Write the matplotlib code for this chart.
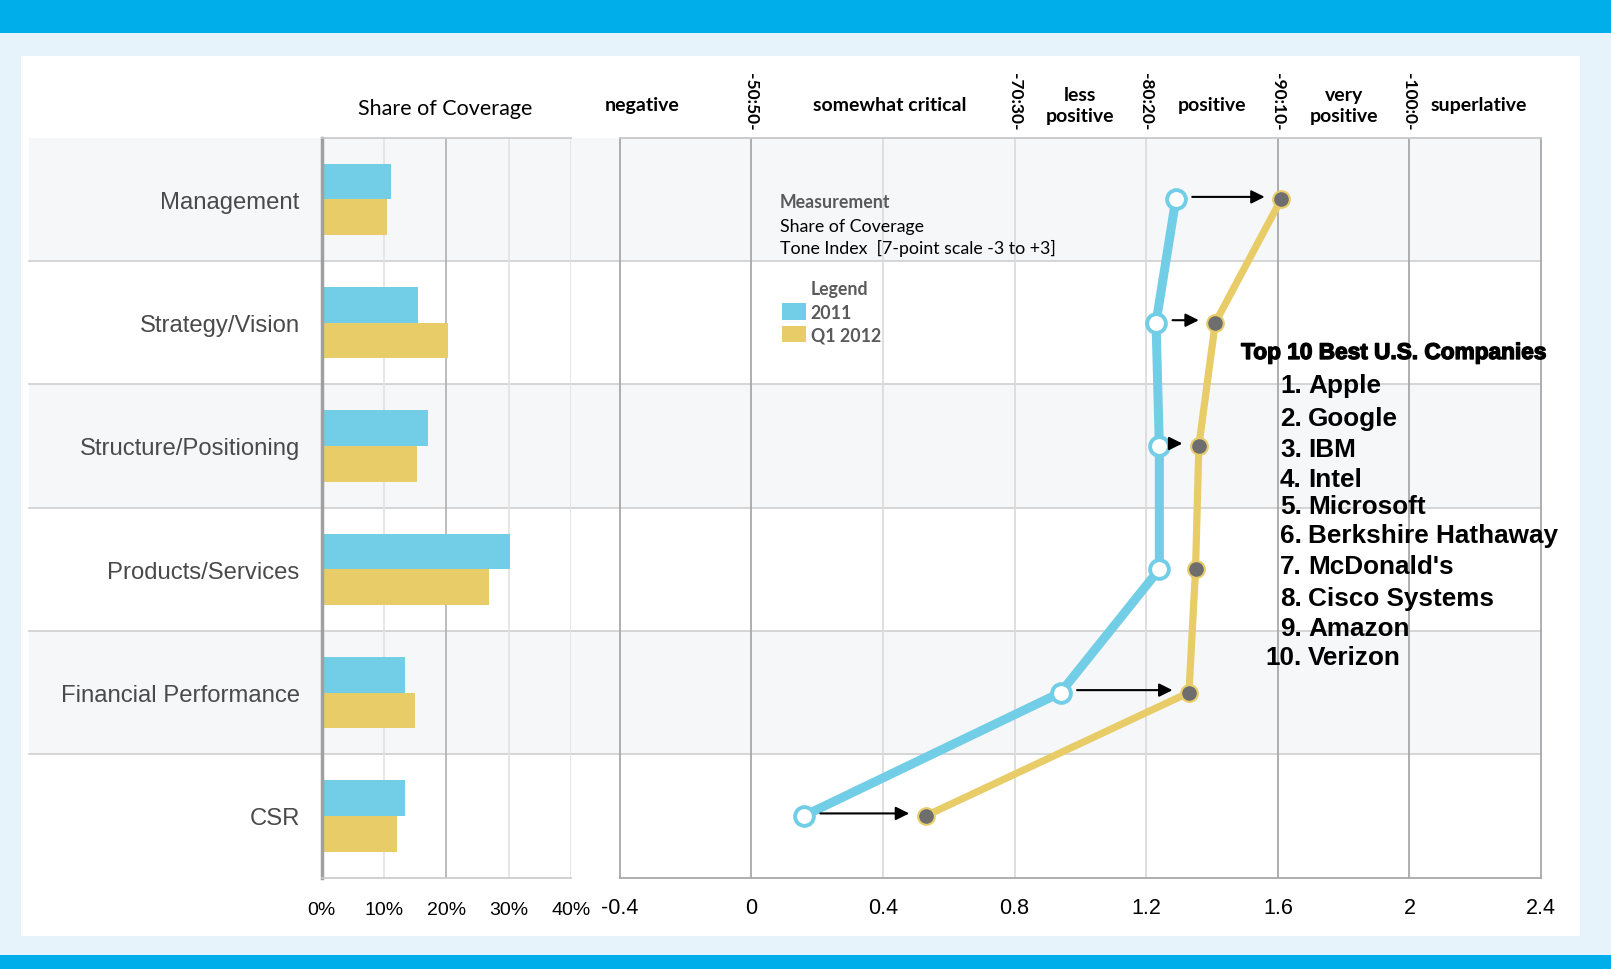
import matplotlib
matplotlib.use('Agg')
import matplotlib.pyplot as plt
from matplotlib.patches import Rectangle
from matplotlib.lines import Line2D
import matplotlib.transforms as mtransforms
import matplotlib.patheffects as pe

# ---------------- data ----------------
categories = ['Management', 'Strategy/Vision', 'Structure/Positioning',
              'Products/Services', 'Financial Performance', 'CSR']
share_2011 = [11.2, 15.5, 17.0, 30.2, 13.4, 13.3]
share_q1_2012 = [10.5, 20.2, 15.3, 26.9, 15.0, 12.1]
tone_2011 = [1.29, 1.23, 1.24, 1.24, 0.94, 0.16]
tone_q1_2012 = [1.61, 1.41, 1.36, 1.35, 1.33, 0.53]

share_ticks = [0, 10, 20, 30, 40]
share_tick_labels = ['0%', '10%', '20%', '30%', '40%']
tone_ticks = [-0.4, 0, 0.4, 0.8, 1.2, 1.6, 2.0, 2.4]
tone_tick_labels = ['-0.4', '0', '0.4', '0.8', '1.2', '1.6', '2', '2.4']

tone_bands = ['negative', 'somewhat critical', 'less\npositive', 'positive',
              'very\npositive', 'superlative']
tone_band_centers = [-0.33, 0.42, 1.0, 1.4, 1.8, 2.21]
band_bounds = [0, 0.8, 1.2, 1.6, 2.0]
band_bound_labels = ['-50:50-', '-70:30-', '-80:20-', '-90:10-', '-100:0-']

companies = ['Apple', 'Google', 'IBM', 'Intel', 'Microsoft', 'Berkshire Hathaway',
             "McDonald's", 'Cisco Systems', 'Amazon', 'Verizon']
series_names = ['2011', 'Q1 2012']

# ---------------- style ----------------
BLUE = '#72CDE6'
YELLOW = '#E8CC68'
TOPBLUE = '#00AEEA'
LIGHTBG = '#E6F3FB'
ROWGRAY = '#F6F7F9'
SEP = '#CFCFCF'

W, H = 1568.0, 944.0   # reference layout units


def fx(x):
    return x / W


def fy(y):
    return 1 - y / H


fig = plt.figure(figsize=(16.11, 9.70), dpi=100)
fig.patch.set_facecolor('white')


def frect(x0, y0, x1, y1, color, z=-10):
    r = Rectangle((fx(x0), fy(y1)), fx(x1) - fx(x0), fy(y0) - fy(y1),
                  transform=fig.transFigure, facecolor=color, edgecolor='none', zorder=z)
    fig.add_artist(r)


# background frame
frect(0, 0, W, H, LIGHTBG, -20)
frect(0, 0, W, 33, TOPBLUE, -19)
frect(0, 930, W, H, TOPBLUE, -19)
frect(20, 55, 1538, 912, 'white', -18)

# axes geometry
top_y, bot_y = 135, 855
n = len(categories)
row_h = (bot_y - top_y) / n
for i in range(n):
    if i % 2 == 0:
        frect(28, top_y + i * row_h, 1500, top_y + (i + 1) * row_h, ROWGRAY, -15)
for i in range(1, n):
    yy = fy(top_y + i * row_h)
    fig.add_artist(Line2D([fx(28), fx(1500)], [yy, yy], transform=fig.transFigure,
                          color=SEP, lw=1.2, zorder=-14))

ax1 = fig.add_axes([fx(313), fy(bot_y), fx(556) - fx(313), fy(top_y) - fy(bot_y)])
ax2 = fig.add_axes([fx(603), fy(bot_y), fx(1500) - fx(603), fy(top_y) - fy(bot_y)])
for ax in (ax1, ax2):
    ax.set_facecolor('none')
    ax.set_ylim(n - 0.5, -0.5)
    ax.set_yticks([])

ys = list(range(n))

# ---- bar panel ----
ax1.set_xlim(0, 40)
for t in share_ticks[1:]:
    ax1.axvline(t, color='#B0B0B0' if t == 20 else '#E2E2E2', lw=1.2, zorder=0)
bh = 0.29
ax1.barh([y - bh / 2 for y in ys], share_2011, height=bh, color=BLUE, zorder=2)
ax1.barh([y + bh / 2 for y in ys], share_q1_2012, height=bh, color=YELLOW, zorder=2)
ax1.set_xticks(share_ticks)
ax1.set_xticklabels(share_tick_labels, family=['Liberation Sans Narrow', 'Liberation Sans'],
                    fontsize=14)
ax1.tick_params(axis='x', length=0, pad=17)
ax1.spines['left'].set_color('#A0A0A0')
ax1.spines['left'].set_linewidth(2.5)
ax1.spines['right'].set_visible(False)
for s in ['top', 'bottom']:
    ax1.spines[s].set_color('#C8C8C8')
    ax1.spines[s].set_linewidth(1.2)

for y, c in zip(ys, categories):
    ax1.text(-3.5, y + 0.02, c, ha='right', va='center', fontsize=17.2,
             family='Liberation Sans', color='#4A4A4A')

# ---- tone panel ----
ax2.set_xlim(-0.4, 2.4)
dark_lines = [0, 1.6, 2.0]
for t in tone_ticks[1:-1]:
    ax2.axvline(t, color='#A8A8A8' if t in dark_lines else '#DCDCDC', lw=1.3, zorder=0)
ax2.set_xticks(tone_ticks)
ax2.set_xticklabels(tone_tick_labels, family='Liberation Sans', fontsize=15.5)
ax2.tick_params(axis='x', length=0, pad=14)
for s in ax2.spines.values():
    s.set_color('#A8A8A8')
    s.set_linewidth(1.3)
ax2.spines['top'].set_color('#C8C8C8')

ax2.plot(tone_2011, ys, color=BLUE, lw=6.5, marker='o', ms=13.5, mfc='white',
         mec=BLUE, mew=2.8, zorder=4, solid_capstyle='round')
ax2.plot(tone_q1_2012, ys, color=YELLOW, lw=5.2, marker='o', ms=12, mfc='#6E6E6E',
         mec=YELLOW, mew=1.5, zorder=3, solid_capstyle='round')
for y, a, b in zip(ys, tone_2011, tone_q1_2012):
    if b - a > 0.115:
        ax2.annotate('', xy=(b - 0.05, y - 0.02), xytext=(a + 0.05, y - 0.02),
                     arrowprops=dict(arrowstyle='-|>', color='black', lw=1.5,
                                     mutation_scale=20, shrinkA=0, shrinkB=0),
                     zorder=5)

# header labels
HF = 'Lato'
trans2 = mtransforms.blended_transform_factory(ax2.transData, fig.transFigure)
for lab, xc in zip(tone_bands, tone_band_centers):
    fig.text(xc, fy(103), lab, transform=trans2, ha='center', va='center',
             fontsize=14, fontweight='bold', family=HF, color='black', linespacing=1.25)
for lab, xb in zip(band_bound_labels, band_bounds):
    fig.text(xb, fy(99), lab, transform=trans2, ha='center', va='center',
             rotation=270, fontsize=12.5, fontweight='bold', family=HF, color='black')
fig.text(fx(433), fy(106), 'Share of Coverage', ha='center', va='center',
         fontsize=15.5, family=HF, color='black')

# info box
IF = 12.8
fig.text(fx(759), fy(197), 'Measurement', ha='left', va='center', fontsize=IF,
         fontweight='bold', family=HF, color='#5A5A5A')
fig.text(fx(759), fy(221), 'Share of Coverage', ha='left', va='center', fontsize=IF,
         family=HF, color='black')
fig.text(fx(759), fy(242), 'Tone Index  [7-point scale -3 to +3]', ha='left', va='center',
         fontsize=IF, family=HF, color='black')
fig.text(fx(789), fy(282), 'Legend', ha='left', va='center', fontsize=IF,
         fontweight='bold', family=HF, color='#5A5A5A')
for k, (name, col) in enumerate(zip(series_names, [BLUE, YELLOW])):
    yc = 304 + k * 22
    frect(761, yc - 8, 784, yc + 8, col, 1)
    fig.text(fx(789), fy(yc + 1), name, ha='left', va='center', fontsize=IF,
             fontweight='bold', family=HF, color='#5A5A5A')

# company list
fig.text(fx(1208), fy(344), 'Top 10 Best U.S. Companies', ha='left', va='center',
         fontsize=16.3, fontweight='bold', family='Liberation Sans', color='black',
         path_effects=[pe.withStroke(linewidth=1.0, foreground='black')])
item_y = [376, 408, 438, 467, 493, 522, 552, 583, 612, 640]
for k, (name, yy) in enumerate(zip(companies, item_y)):
    fig.text(fx(1267), fy(yy), f'{k + 1}.', ha='right', va='center', fontsize=18.8,
             fontweight='bold', family='Liberation Sans', color='black')
    fig.text(fx(1273), fy(yy), name, ha='left', va='center', fontsize=18.8,
             fontweight='bold', family='Liberation Sans', color='black')

fig.savefig('out.png', dpi=100, facecolor=fig.get_facecolor())
